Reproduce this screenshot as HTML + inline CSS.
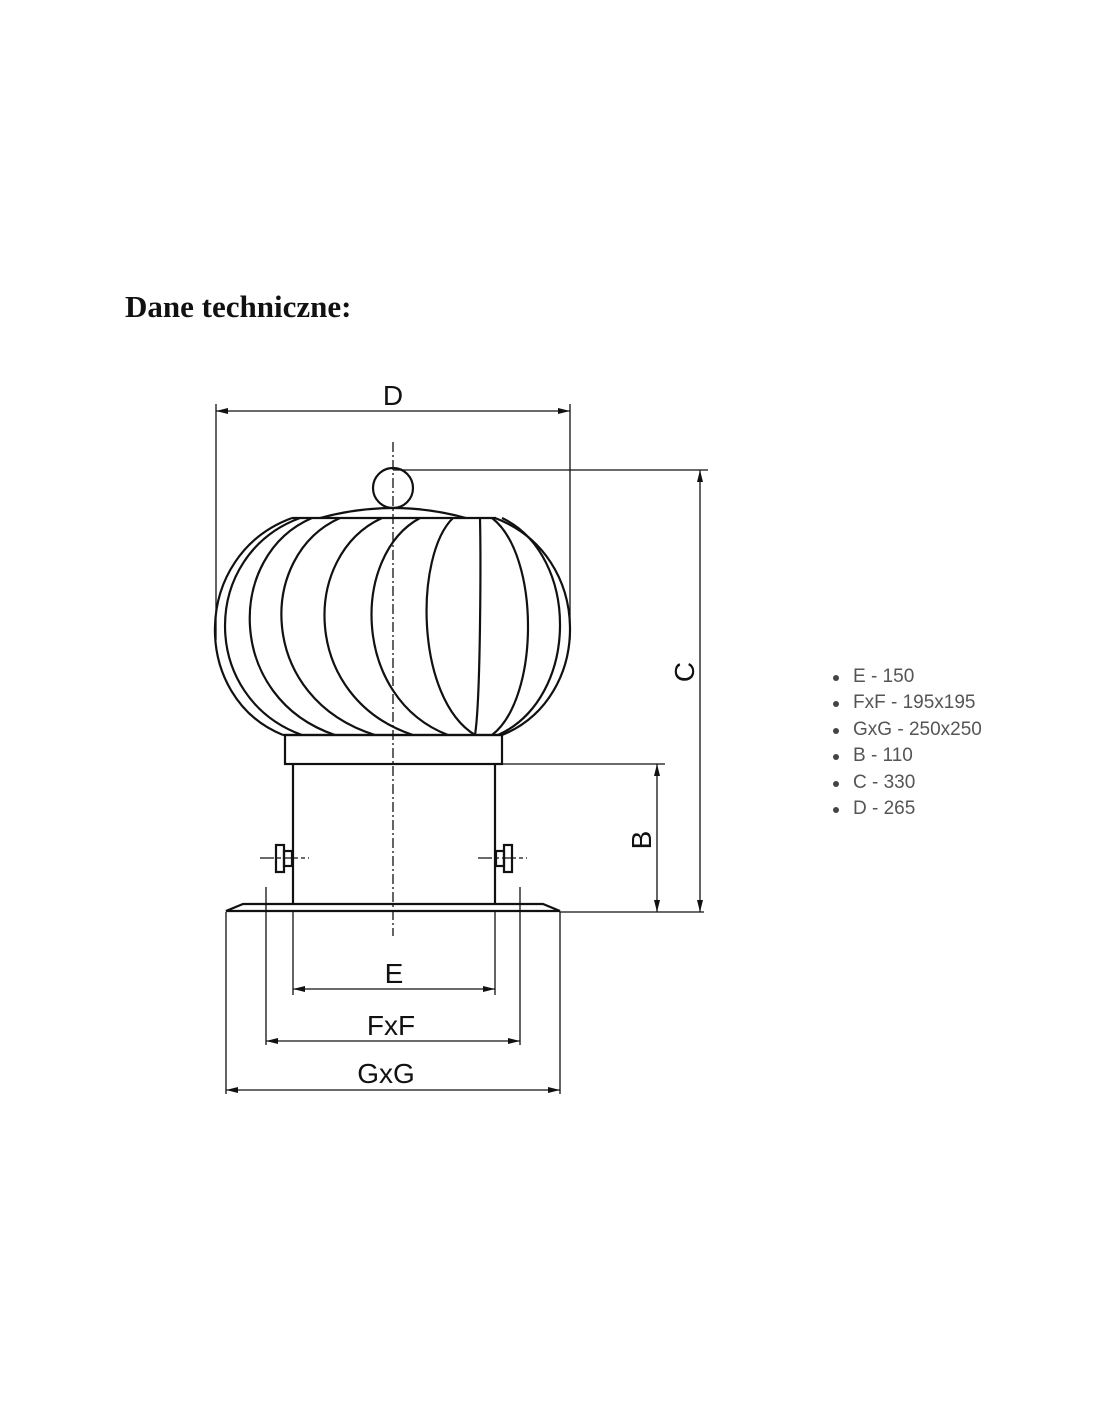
<!DOCTYPE html>
<html><head><meta charset="utf-8"><style>
html,body{margin:0;padding:0;background:#fff;}
body{width:1100px;height:1422px;position:relative;overflow:hidden;}
.t{position:absolute;left:125px;top:289px;font:bold 31px "Liberation Serif",serif;color:#111;}
ul{position:absolute;left:835px;top:664px;margin:0;padding:0;list-style:none;font:19px "Liberation Sans",sans-serif;color:#555;}
li{height:26.4px;line-height:26px;position:relative;padding-left:18px;}
li:before{content:"";position:absolute;left:-2px;top:11px;width:6px;height:6px;border-radius:50%;background:#444;}
</style></head><body>
<div class="t">Dane techniczne:</div>
<svg width="1100" height="1422" style="position:absolute;left:0;top:0" fill="none" stroke="#111">
<defs><marker id="a" markerWidth="12" markerHeight="6" refX="12" refY="3" orient="auto-start-reverse" markerUnits="userSpaceOnUse"><path d="M0,0 L12,3 L0,6z" fill="#111" stroke="none"/></marker></defs>
<g stroke-width="1.3">
<line x1="216" y1="404" x2="216" y2="640"/><line x1="570" y1="404" x2="570" y2="640"/>
<line x1="216" y1="411" x2="570" y2="411" marker-start="url(#a)" marker-end="url(#a)"/>
<line x1="393" y1="470" x2="708" y2="470"/>
<line x1="502" y1="764" x2="665" y2="764"/>
<line x1="560" y1="912" x2="704" y2="912"/>
<line x1="700" y1="470" x2="700" y2="912" marker-start="url(#a)" marker-end="url(#a)"/>
<line x1="657" y1="764" x2="657" y2="912" marker-start="url(#a)" marker-end="url(#a)"/>
<line x1="293" y1="912" x2="293" y2="995"/><line x1="495" y1="912" x2="495" y2="995"/>
<line x1="293" y1="989" x2="495" y2="989" marker-start="url(#a)" marker-end="url(#a)"/>
<line x1="266" y1="887" x2="266" y2="1045"/><line x1="520" y1="887" x2="520" y2="1045"/>
<line x1="266" y1="1041" x2="520" y2="1041" marker-start="url(#a)" marker-end="url(#a)"/>
<line x1="226" y1="912" x2="226" y2="1094"/><line x1="560" y1="912" x2="560" y2="1094"/>
<line x1="226" y1="1090" x2="560" y2="1090" marker-start="url(#a)" marker-end="url(#a)"/>
<line x1="393" y1="442" x2="393" y2="936" stroke-dasharray="10 3 2 3"/>
<line x1="260" y1="858" x2="309" y2="858" stroke-dasharray="14 3 4 3"/>
<line x1="478" y1="858" x2="527" y2="858" stroke-dasharray="14 3 4 3"/>
</g>
<g stroke-width="2.2">
<circle cx="393" cy="488" r="20"/>
<path d="M320 518 Q393 498 466 518"/>
<line x1="292" y1="518" x2="496" y2="518"/>
<line x1="283" y1="735" x2="502" y2="735"/>
<path d="M292 518 C190.8 555 190.8 698 283 735"/>
<path d="M300 518 C199.7 555 199.7 698 302 735"/>
<path d="M312 518 C225.5 555 225.5 698 335 735"/>
<path d="M340 518 C256.8 555 256.8 698 375 735"/>
<path d="M382 518 C300.8 555 300.8 698 413 735"/>
<path d="M420 518 C351.3 555 351.3 698 448 735"/>
<path d="M453 518 C414.7 555 414.7 698 475 735"/>
<path d="M480 518 C480.8 555 480.8 698 475 735"/>
<path d="M492 518 C540 555 540 698 492 735"/>
<path d="M495 518 C593.8 555 593.8 698 502 735"/>
<path d="M502 518 C580 555 580 698 498 735"/>
<rect x="285" y="735" width="217" height="29"/>
<line x1="293" y1="764" x2="293" y2="905"/><line x1="495" y1="764" x2="495" y2="905"/>
<path d="M226 911 L243 904 L543 904 L560 911 Z"/>
<rect x="276" y="845" width="8" height="27"/>
<rect x="284" y="851" width="8" height="15"/>
<rect x="504" y="845" width="8" height="27"/>
<rect x="496" y="851" width="8" height="15"/>
</g>
<g fill="#111" stroke="none" font-family="Liberation Sans, sans-serif" font-size="28" text-anchor="middle">
<text x="393" y="405">D</text>
<text x="394" y="983">E</text>
<text x="391" y="1035">FxF</text>
<text x="386" y="1083">GxG</text>
<text transform="translate(694,672) rotate(-90)">C</text>
<text transform="translate(651,840) rotate(-90)">B</text>
</g>
</svg>
<ul><li>E - 150</li><li>FxF - 195x195</li><li>GxG - 250x250</li><li>B - 110</li><li>C - 330</li><li>D - 265</li></ul>
</body></html>
